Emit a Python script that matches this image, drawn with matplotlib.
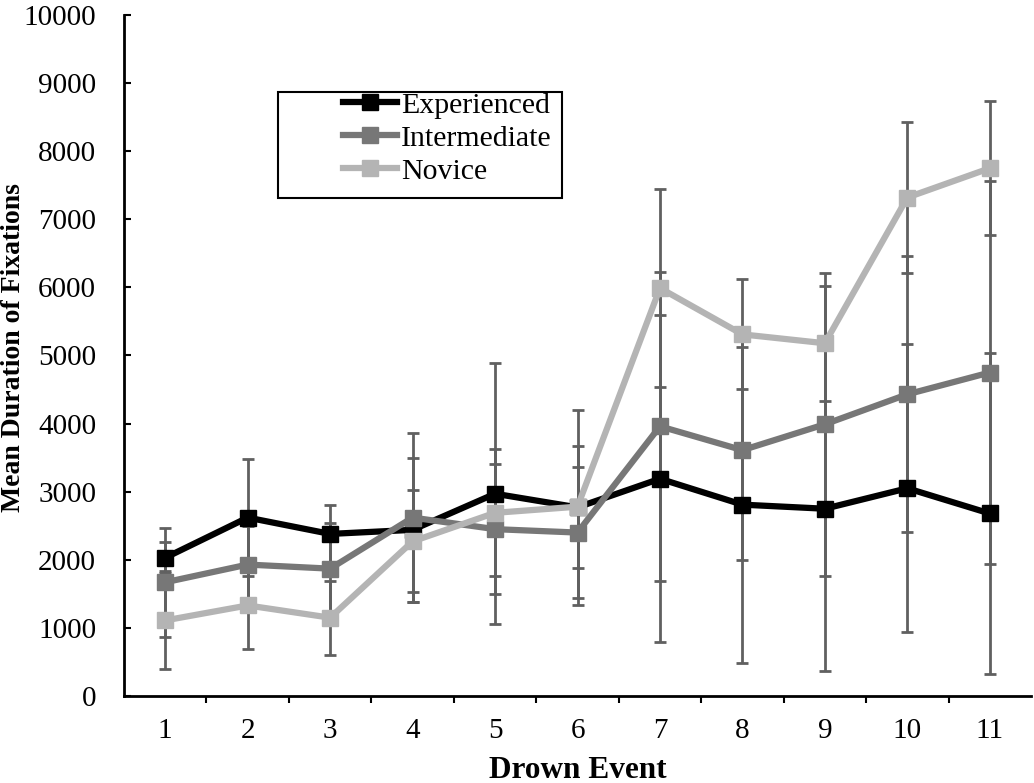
import numpy as np
import matplotlib.pyplot as plt
from matplotlib.patches import Rectangle

plt.rcParams['font.family'] = ['Liberation Serif', 'DejaVu Serif']

events = list(range(1, 12))
experienced = [2030, 2620, 2380, 2440, 2970, 2770, 3190, 2810, 2750, 3050, 2680]
intermediate = [1670, 1930, 1870, 2620, 2450, 2400, 3960, 3610, 3990, 4430, 4750]
novice = [1110, 1330, 1150, 2270, 2690, 2780, 5990, 5310, 5180, 7320, 7750]
experienced_err = [230, 865, 425, 1060, 1915, 1430, 2400, 2320, 2378, 2113, 2353]
intermediate_err = [800, 560, 675, 1240, 957, 965, 2273, 1613, 2222, 2027, 2818]
novice_err = [720, 645, 545, 750, 932, 896, 1450, 809, 847, 1110, 987]

series = [
    ("Experienced", experienced, experienced_err, "#000000"),
    ("Intermediate", intermediate, intermediate_err, "#777777"),
    ("Novice", novice, novice_err, "#b4b4b4"),
]

W, H = 1034, 783
fig = plt.figure(figsize=(W / 100, H / 100), dpi=100)
ax = fig.add_axes([124 / W, 87 / H, 907 / W, 681 / H])

# error bars first so the lines sit on top
for name, vals, err, col in series:
    ax.errorbar(events, vals, yerr=err, fmt='none', ecolor='#606060',
                elinewidth=2, capsize=4.5, capthick=2, zorder=1)

for name, vals, err, col in series:
    ax.plot(events, vals, color=col, lw=4.5, marker='s', markersize=11,
            label=name, zorder=3)

ax.set_xlim(0.5, 11.5)
ax.set_ylim(0, 10000)
ax.set_yticks(np.arange(0, 10001, 1000))
ax.set_xticks(events)
ax.set_xticks(np.arange(1.5, 11.5, 1), minor=True)
ax.tick_params(axis='x', which='major', length=0, labelsize=21, pad=16)
ax.tick_params(axis='x', which='minor', length=5, width=1.5, direction='out')
ax.tick_params(axis='y', length=5, width=1.5, direction='in', labelsize=21, pad=20)

for s in ['top', 'right']:
    ax.spines[s].set_visible(False)
for s in ['left', 'bottom']:
    ax.spines[s].set_linewidth(2)

ax.set_xlabel("Drown Event", fontsize=22.5, fontweight='bold')
ax.set_ylabel("Mean Duration of Fixations", fontsize=20, fontweight='bold')
ax.xaxis.label.set_va('center')
ax.xaxis.set_label_coords(0.5, -(770 - 696) / 681)
ax.yaxis.label.set_va('center')
ax.yaxis.label.set_ha('center')
ax.yaxis.set_label_coords((14 - 124) / 907, (696 - 348) / 681)

leg = ax.legend(loc='upper left', bbox_to_anchor=(343 / W, 1 - 92 / H),
                bbox_transform=fig.transFigure, fontsize=21.5, frameon=False,
                handlelength=1.8, handletextpad=0.14, borderpad=0,
                labelspacing=0.2, borderaxespad=0)

# legend box drawn separately (Excel-style, wide left margin)
fig.add_artist(Rectangle((278 / W, 1 - 198 / H), (562 - 278) / W, 106 / H,
                         transform=fig.transFigure, fill=False,
                         edgecolor='black', lw=1.5))

fig.savefig("out.png", dpi=100)
